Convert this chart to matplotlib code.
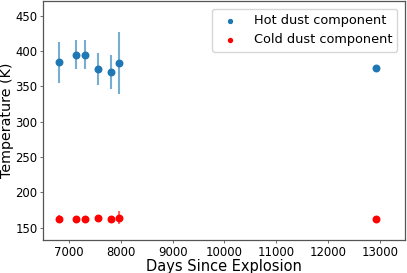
import matplotlib
matplotlib.use("Agg")
import matplotlib.pyplot as plt

days = [6809, 7137, 7299, 7556, 7807, 7956, 12923]
hot_temp = [384.5, 395, 395, 375, 370, 383, 376]
hot_err = [29, 21, 21, 23, 24, 44, 0]
cold_temp = [162.5, 162, 162, 164, 162, 164, 162]
cold_err = [6, 3, 3, 4, 4, 9, 0]

fig = plt.figure(figsize=(4.07, 2.73), dpi=100)
ax = fig.add_axes([43/407, 1 - 240/273, (405-43)/407, (240-1)/273])

ax.errorbar(days, hot_temp, yerr=hot_err, fmt='none', ecolor='#1f77b4', alpha=0.6, lw=1.5)
ax.errorbar(days, cold_temp, yerr=cold_err, fmt='none', ecolor='red', alpha=0.6, lw=1.5)
ax.scatter(days, hot_temp, s=22, color='#1f77b4', label='Hot dust component', zorder=3)
ax.scatter(days, cold_temp, s=22, color='red', label='Cold dust component', zorder=3)

ax.set_xlim(6494, 13489)
ax.set_ylim(132.5, 471)
ax.set_xticks([7000, 8000, 9000, 10000, 11000, 12000, 13000])
ax.set_yticks([150, 200, 250, 300, 350, 400, 450])
ax.tick_params(labelsize=8.4, length=2.5, width=0.6, pad=1.5, color='#555555')
for s in ax.spines.values():
    s.set_color('#555555')
    s.set_linewidth(0.9)
ax.set_xlabel('Days Since Explosion', fontsize=10.5, labelpad=0)
ax.set_ylabel('Temperature (K)', fontsize=10.3, labelpad=1)
ax.legend(loc='upper right', fontsize=9.3, markerscale=0.6, handletextpad=0.8, borderaxespad=0.6)

fig.savefig('out.png', dpi=100)
